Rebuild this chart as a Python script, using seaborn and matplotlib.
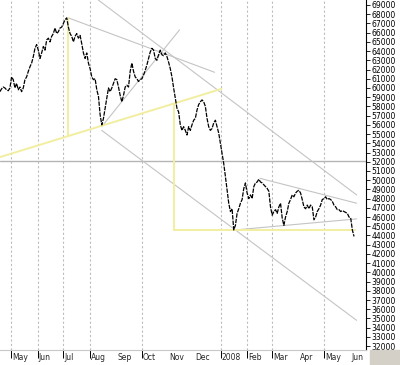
import matplotlib
matplotlib.use("Agg")
import matplotlib.pyplot as plt
import matplotlib.dates as mdates
from matplotlib.patches import Rectangle
from matplotlib.transforms import ScaledTranslation
import pandas as pd
import seaborn as sns

# ---------------- data ----------------
start_date = "2007-04-18"
end_date = "2008-06-05"
prices = [
    59600, 59900, 60100, 60000, 59800, 59700, 60000, 61200, 60900, 60000,
    60500, 59800, 60100, 59600, 60000, 60900, 61200, 61800, 62300, 62700,
    63400, 64300, 64700, 64100, 63200, 63800, 64500, 64100, 65200, 65400,
    65000, 65600, 65900, 66500, 65900, 66100, 66500, 66600, 67000, 67400,
    67600, 66600, 65900, 65600, 65000, 65600, 65900, 65400, 65700, 64800,
    63800, 63200, 63800, 62700, 62100, 61200, 60900, 61000, 59800, 59100,
    57100, 56000, 56700, 57800, 58900, 60000, 59600, 60000, 60500, 61000,
    60900, 60100, 59200, 58500, 59200, 60100, 60300, 60100, 61800, 62700,
    61800, 61200, 61000, 60700, 60900, 61000, 61400, 61900, 62500, 63200,
    63900, 64300, 64100, 63200, 63000, 63600, 64100, 63600, 63500, 63800,
    63400, 62800, 62100, 61200, 60000, 58900, 57800, 57400, 56000, 55400,
    55800, 55400, 54900, 55800, 55400, 56000, 56500, 56700, 57600, 58200,
    58500, 58700, 58500, 58000, 56700, 55800, 55400, 55600, 56200, 56500,
    55800, 55100, 54000, 52900, 51800, 50400, 48900, 47500, 46600, 46900,
    44600, 45100, 46400, 46900, 47500, 47900, 49100, 49700, 48600, 48000,
    48400, 48000, 49300, 49700, 49800, 50100, 49800, 49700, 49500, 49300,
    49100, 48800, 47100, 46200, 46600, 46800, 46400, 47100, 47500, 45900,
    45100, 46000, 46600, 47500, 47900, 48400, 48200, 48600, 48800, 48900,
    48600, 47900, 47100, 46900, 47300, 46900, 47300, 47100, 45700, 46000,
    46600, 46900, 47300, 47900, 48000, 48200, 47900, 48000, 47900, 47700,
    47300, 47100, 46800, 46800, 46600, 46700, 46600, 46500, 46400, 46000,
    45900, 44600, 43900,
]

# trend lines (yellow) : (dates, values)
yellow_dates = [
    ["2007-04-18", "2008-01-02"],
    ["2007-07-07", "2007-07-07"],
    ["2007-11-08", "2007-11-08"],
    ["2007-11-08", "2008-06-06"],
]
yellow_values = [
    [52500, 59900],
    [67600, 54800],
    [58300, 44600],
    [44600, 44600],
]
# trend lines (gray)
gray_dates = [
    ["2007-08-11", "2008-06-08"],
    ["2007-07-07", "2007-12-25"],
    ["2007-08-15", "2008-06-08"],
    ["2007-08-15", "2007-11-14"],
    ["2008-02-16", "2008-06-08"],
    ["2008-01-18", "2008-06-08"],
]
gray_values = [
    [69540, 48400],
    [67600, 61700],
    [55400, 34800],
    [55800, 66300],
    [50200, 47500],
    [44600, 45800],
]
hline_value = 52100

grid_months = ["2007-05-01", "2007-06-01", "2007-07-01", "2007-08-01", "2007-10-01",
               "2008-01-01", "2008-02-01", "2008-03-01", "2008-05-01"]
month_starts = ["2007-05-01", "2007-06-01", "2007-07-01", "2007-08-01", "2007-09-01",
                "2007-10-01", "2007-11-01", "2007-12-01", "2008-01-01", "2008-02-01",
                "2008-03-01", "2008-04-01", "2008-05-01", "2008-06-01"]
month_labels = ["May", "Jun", "Jul", "Aug", "Sep", "Oct", "Nov", "Dec", "2008",
                "Feb", "Mar", "Apr", "May", "Jun"]
y_ticks = list(range(32000, 70000, 1000))

# ---------------- plot ----------------
sns.set_style("white")
plt.rcParams['font.family'] = ['DejaVu Sans']

fig = plt.figure(figsize=(4, 3.65), dpi=100)
ax = fig.add_axes([0, 15 / 365, 366 / 400, 350 / 365])

dates = pd.date_range(start_date, end_date, periods=len(prices))
df = pd.DataFrame({"date": dates, "price": prices})

for g in grid_months:
    ax.axvline(pd.Timestamp(g), color="#bdbdbd", lw=0.8, ls=(0, (2, 2)), zorder=0)
    ax.vlines(pd.Timestamp(g), -8 / 350, 0, transform=ax.get_xaxis_transform(),
              color="black", lw=0.7, clip_on=False)
ax.axhline(hline_value, color="#b5b5b5", lw=1.0, zorder=1)

for d, v in zip(gray_dates, gray_values):
    ax.plot(pd.to_datetime(d), v, color="#c4c4c4", lw=0.8, zorder=1)
for d, v in zip(yellow_dates, yellow_values):
    ax.plot(pd.to_datetime(d), v, color="#f2eea0", lw=1.4, zorder=2)

sns.lineplot(data=df, x="date", y="price", ax=ax, color="black", lw=0.9, zorder=3)
ax.lines[-1].set_linestyle((0, (3.5, 0.9)))

ax.set_xlim(pd.Timestamp("2007-04-18 03:00"), pd.Timestamp("2008-06-19"))
ax.set_ylim(31580, 69540)
ax.set_xlabel("")
ax.set_ylabel("")

ax.yaxis.tick_right()
ax.set_yticks(y_ticks)
ax.set_yticklabels([str(t) for t in y_ticks])
ax.tick_params(axis="y", direction="out", length=3, width=0.6, labelsize=5.5, pad=1,
               colors="black")

ax.set_xticks(pd.to_datetime(month_starts))
ax.set_xticklabels(month_labels, ha="left")
ax.xaxis.set_minor_locator(mdates.WeekdayLocator(byweekday=mdates.MO))
ax.tick_params(axis="x", which="major", direction="out", length=2, width=0.6,
               labelsize=5.5, pad=0.3)
ax.tick_params(axis="x", which="minor", direction="out", length=2, width=0.5)
offset = ScaledTranslation(1.2 / 100, 0, fig.dpi_scale_trans)
for lbl in ax.get_xticklabels():
    lbl.set_transform(lbl.get_transform() + offset)

for s in ["left", "top"]:
    ax.spines[s].set_visible(False)
ax.spines["right"].set_color("black")
ax.spines["right"].set_linewidth(0.8)
ax.spines["bottom"].set_color("#c8c8c8")
ax.spines["bottom"].set_linewidth(0.8)

fig.patches.append(Rectangle((370 / 400, 0), 30 / 400, 15 / 365,
                             transform=fig.transFigure, color="#d4d0c8", zorder=0))

fig.savefig("out.png", dpi=100)
